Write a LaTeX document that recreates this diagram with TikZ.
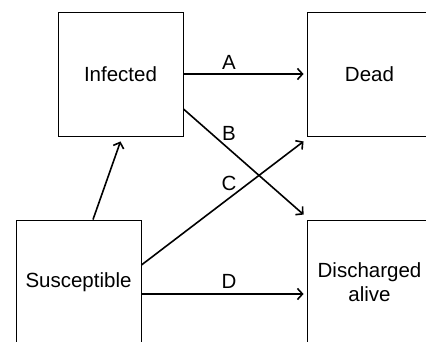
\documentclass[tikz,border=0pt]{standalone}
\usepackage{fontspec}
\setmainfont{Liberation Sans}
\usetikzlibrary{arrows.meta}
\begin{document}
\begin{tikzpicture}[x=1pt,y=-1pt,
  statebox/.style={draw=black,line width=0.9pt,minimum width=125pt,minimum height=124pt,inner sep=0pt,align=center,font=\fontsize{20.5}{24}\selectfont},
  flow/.style={line width=1.6pt,-{Straight Barb[length=5pt,width=11pt,line width=1.6pt]}},
  lbl/.style={font=\fontsize{20.5}{24}\selectfont,inner sep=0pt}]
\useasboundingbox (0,0) rectangle (426,342);
\begin{scope}
\clip (0,0) rectangle (426,342);
\node[statebox] (inf) at (120.5,74) {Infected};
\node[statebox] (dead) at (369.5,74) {Dead};
\node[statebox] (sus) at (78.5,282) {Susceptible};
\node[statebox] (dis) at (369.5,282) {Discharged\\alive};
\end{scope}
\draw[flow] (inf.east) -- ([xshift=-3pt]dead.west);
\draw[flow] ([yshift=-35pt]inf.east) -- ([shift={(-3pt,5pt)}]dis.north west);
\draw[flow] ([yshift=17pt]sus.east) -- ([shift={(-3pt,-5pt)}]dead.south west);
\draw[flow] ([yshift=-12pt]sus.east) -- ([shift={(-3pt,-12pt)}]dis.west);
\draw[flow] ([xshift=14.5pt]sus.north) -- ([yshift=-5pt]inf.south);
\node[lbl] (la) at (229,62) {A};
\node[lbl] (lb) at (229,133.5) {B};
\node[lbl] (lc) at (229,183) {C};
\node[lbl] (ld) at (229,281.5) {D};
\end{tikzpicture}
\end{document}
